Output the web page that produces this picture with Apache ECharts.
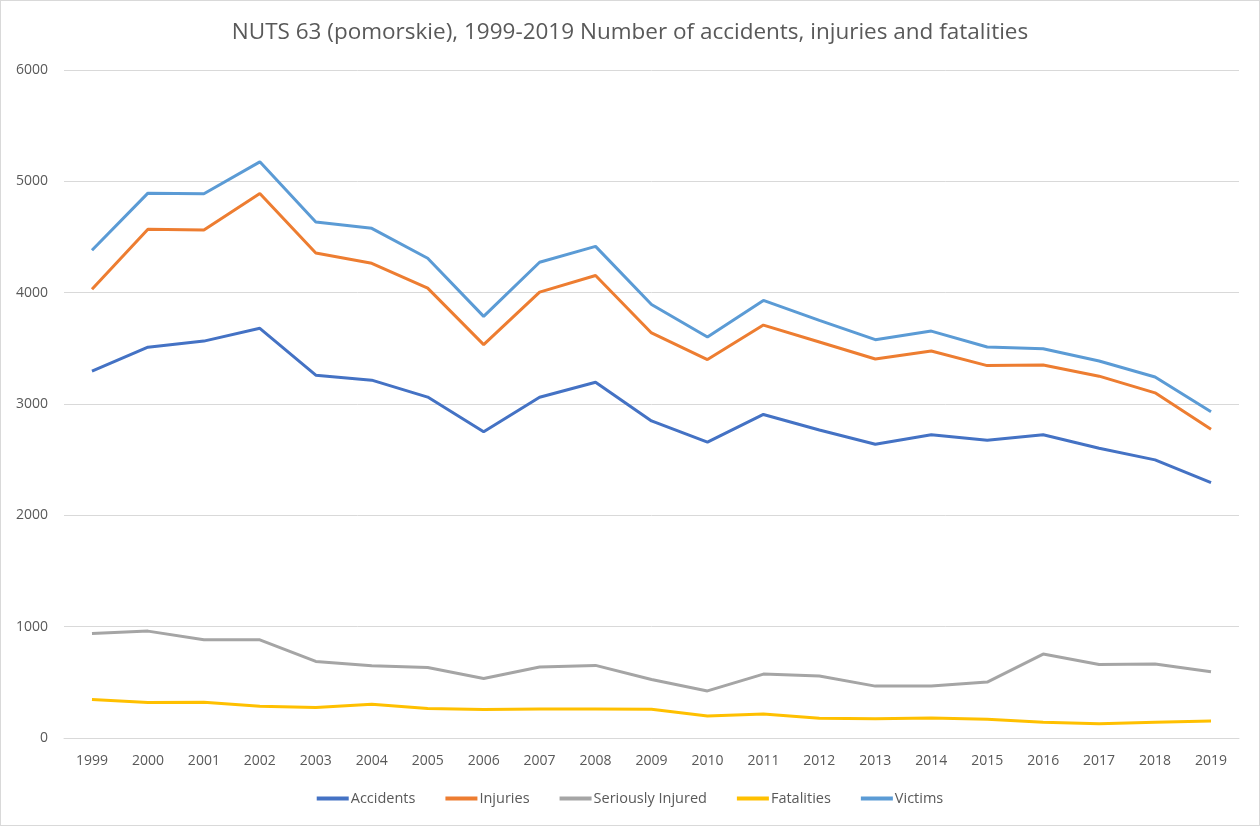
<!DOCTYPE html>
<html><head><meta charset="utf-8">
<script src="https://cdn.jsdelivr.net/npm/echarts@6/dist/echarts.min.js"></script>
<style>html,body{margin:0;padding:0;background:#fff}#c{width:1260px;height:826px;box-sizing:border-box;border:1px solid #d9d9d9}</style>
</head><body><div id="c"></div>
<script>
const years = ['1999','2000','2001','2002','2003','2004','2005','2006','2007','2008','2009','2010','2011','2012','2013','2014','2015','2016','2017','2018','2019'];
const accidents = [3295,3510,3565,3680,3259,3214,3062,2750,3060,3196,2848,2657,2906,2766,2638,2724,2675,2724,2603,2498,2294];
const injuries  = [4031,4569,4563,4891,4357,4264,4041,3533,4005,4154,3638,3399,3709,3557,3404,3476,3345,3351,3250,3100,2773];
const serious   = [938,960,882,882,688,649,634,535,637,652,525,423,574,556,466,468,502,754,661,664,595];
const fatalities= [345,318,321,285,273,303,264,255,261,261,258,198,216,177,174,180,168,141,129,141,153];
const victims   = [4381,4894,4888,5175,4635,4578,4309,3787,4273,4416,3894,3602,3930,3751,3578,3655,3512,3497,3386,3243,2930];
const yTicks = {min:0, max:6000, interval:1000};

const font = "'Open Sans', 'Liberation Sans', sans-serif";
const mk = (name, data, color) => ({name, type:'line', data, symbol:'none', lineStyle:{width:3, color}, itemStyle:{color}});
const chart = echarts.init(document.getElementById('c'));
chart.setOption({
  animation:false,
  title:{text:'NUTS 63 (pomorskie), 1999-2019 Number of accidents, injuries and fatalities', left:'center', top:15,
    textStyle:{fontFamily:font, fontSize:22.5, fontWeight:'normal', color:'#595959'}},
  grid:{left:63, right:20, top:69, bottom:87},
  legend:{bottom:14, left:'center', icon:'rect', itemWidth:32, itemHeight:4, itemGap:30,
    textStyle:{fontFamily:font, fontSize:14.5, color:'#595959', padding:[0,0,0,-3]},
    data:['Accidents','Injuries','Seriously Injured','Fatalities','Victims']},
  xAxis:{type:'category', data:years, boundaryGap:true,
    axisLine:{lineStyle:{color:'#d9d9d9'}}, axisTick:{show:false},
    axisLabel:{fontFamily:font, fontSize:14, color:'#595959', margin:16}},
  yAxis:{type:'value', min:yTicks.min, max:yTicks.max, interval:yTicks.interval,
    axisLine:{show:false}, axisTick:{show:false},
    splitLine:{lineStyle:{color:'#d9d9d9'}},
    axisLabel:{fontFamily:font, fontSize:14, color:'#595959', margin:16, formatter:v=>String(v)}},
  series:[
    mk('Accidents', accidents, '#4472C4'),
    mk('Injuries', injuries, '#ED7D31'),
    mk('Seriously Injured', serious, '#A5A5A5'),
    mk('Fatalities', fatalities, '#FFC000'),
    mk('Victims', victims, '#5B9BD5')
  ]
});
</script></body></html>
